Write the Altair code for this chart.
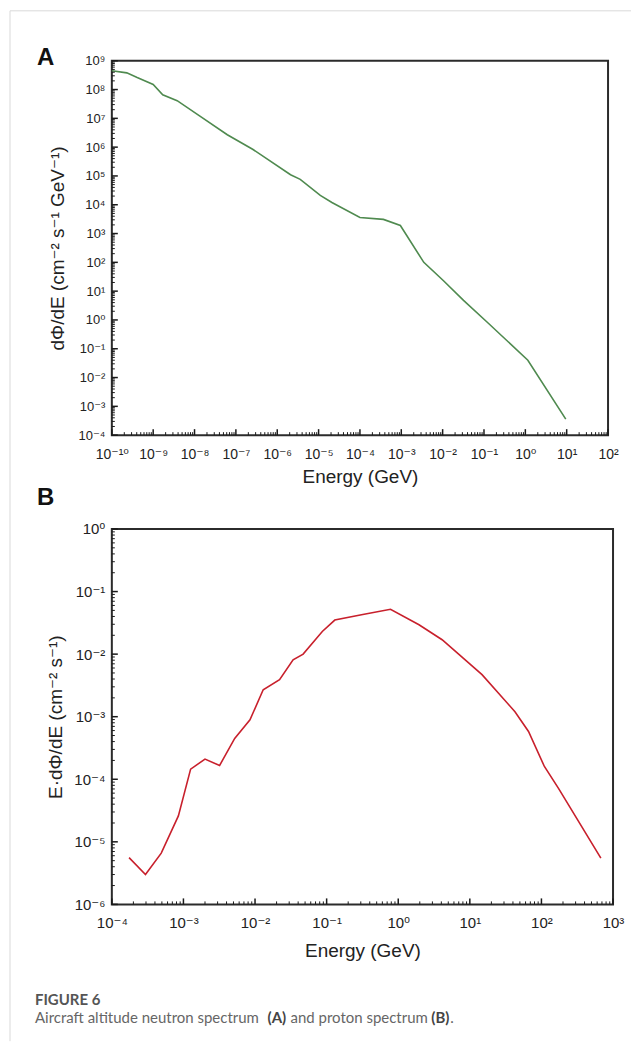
import json
import altair as alt
import pandas as pd

# ---------------- data ----------------
# Panel A: aircraft altitude neutron spectrum
energy_A = [1.0e-10, 2.3e-10, 4.1e-10, 1.0e-9, 1.7e-9, 3.8e-9, 1.35e-8, 6.2e-8, 2.6e-7,
            2.1e-6, 3.6e-6, 1.1e-5, 2.1e-5, 1.0e-4, 3.7e-4, 9.5e-4, 3.5e-3, 1.05e-2,
            3.2e-2, 1.2e-1, 1.15, 9.5]
flux_A = [4.5e8, 3.8e8, 2.6e8, 1.5e8, 6.6e7, 4.1e7, 1.2e7, 2.7e6, 8.3e5,
          1.1e5, 7.6e4, 2.1e4, 1.2e4, 3.6e3, 3.1e3, 1.9e3, 1.0e2, 2.3e1,
          4.8, 0.83, 0.04, 3.6e-4]

# Panel B: aircraft altitude proton spectrum
energy_B = [1.74e-4, 2.95e-4, 4.9e-4, 8.5e-4, 1.26e-3, 2.0e-3, 3.2e-3, 5.2e-3, 8.5e-3,
            1.3e-2, 2.2e-2, 3.4e-2, 4.7e-2, 8.7e-2, 0.13, 0.32, 0.78, 1.95, 4.1,
            14.8, 42.7, 66.0, 110.0, 174.0, 676.0]
flux_B = [5.6e-6, 3.0e-6, 6.6e-6, 2.6e-5, 1.45e-4, 2.1e-4, 1.66e-4, 4.5e-4, 8.9e-4,
          2.7e-3, 3.9e-3, 8.1e-3, 1.0e-2, 2.3e-2, 3.5e-2, 4.3e-2, 5.2e-2, 2.95e-2, 1.7e-2,
          4.7e-3, 1.2e-3, 5.8e-4, 1.6e-4, 7.1e-5, 5.5e-6]

# tick labels
A_x_labels = ["10⁻¹⁰", "10⁻⁹", "10⁻⁸", "10⁻⁷", "10⁻⁶", "10⁻⁵", "10⁻⁴", "10⁻³",
              "10⁻²", "10⁻¹", "10⁰", "10¹", "10²"]
A_y_labels = ["10⁻⁴", "10⁻³", "10⁻²", "10⁻¹", "10⁰", "10¹", "10²", "10³", "10⁴",
              "10⁵", "10⁶", "10⁷", "10⁸", "10⁹"]
B_x_labels = ["10⁻⁴", "10⁻³", "10⁻²", "10⁻¹", "10⁰", "10¹", "10²", "10³"]
B_y_labels = ["10⁻⁶", "10⁻⁵", "10⁻⁴", "10⁻³", "10⁻²", "10⁻¹", "10⁰"]

A_x_exp = (-10, 2)
A_y_exp = (-4, 9)
B_x_exp = (-4, 3)
B_y_exp = (-6, 0)

title_A_x = "Energy (GeV)"
title_A_y = "dΦ/dE (cm⁻² s⁻¹ GeV⁻¹)"
title_B_x = "Energy (GeV)"
title_B_y = "E·dΦ/dE (cm⁻² s⁻¹)"

caption_head = "FIGURE 6"
caption_parts = ["Aircraft altitude neutron spectrum", "(A)", "and proton spectrum", "(B)", "."]

# ---------------- style ----------------
FONT = "Liberation Sans, Arial, DejaVu Sans, sans-serif"
CAP_FONT = "Lato, Open Sans, sans-serif"
W_A, H_A = 497, 375
W_B, H_B = 502, 376
AXIS_COL = "#1a1a1a"


def majors(lo, hi):
    return [10.0 ** e for e in range(lo, hi + 1)]


def minors(lo, hi):
    return [k * 10.0 ** e for e in range(lo, hi) for k in range(2, 10)]


def label_expr(labels, lo):
    return f"{json.dumps(labels, ensure_ascii=False)}[round(log(datum.value)/LN10) - ({lo})]"


def panel(energy, flux, color, xexp, yexp, xlabels, ylabels, xtitle, ytitle,
          W, H, xlab_size, ylab_size, xlab_pad, xtitle_y, ytitle_x):
    sx = alt.Scale(type="log", domain=[10.0 ** xexp[0], 10.0 ** xexp[1]], nice=False)
    sy = alt.Scale(type="log", domain=[10.0 ** yexp[0], 10.0 ** yexp[1]], nice=False)
    ax = alt.Axis(values=majors(*xexp), labelExpr=label_expr(xlabels, xexp[0]),
                  title=xtitle, labelFontSize=xlab_size, labelPadding=xlab_pad,
                  labelOverlap=False, labelFlush=False,
                  titleY=xtitle_y, titleBaseline="alphabetic")
    ay = alt.Axis(values=majors(*yexp), labelExpr=label_expr(ylabels, yexp[0]),
                  title=ytitle, labelFontSize=ylab_size, labelPadding=7,
                  labelOverlap=False, labelFlush=False,
                  titleX=ytitle_x, titleBaseline="alphabetic")
    df = pd.DataFrame({"energy": energy, "flux": flux})
    line = alt.Chart(df).mark_line(color=color, strokeWidth=1.6).encode(
        x=alt.X("energy:Q", scale=sx, axis=ax),
        y=alt.Y("flux:Q", scale=sy, axis=ay),
    )
    # inward tick marks
    ymaj = alt.Chart(pd.DataFrame({"v": majors(*yexp)})).mark_rule(
        color=AXIS_COL, strokeWidth=1.5).encode(
        y=alt.Y("v:Q", scale=sy, axis=ay), x=alt.value(0), x2=alt.value(6))
    ymin = alt.Chart(pd.DataFrame({"v": minors(*yexp)})).mark_rule(
        color=AXIS_COL, strokeWidth=1).encode(
        y=alt.Y("v:Q", scale=sy, axis=ay), x=alt.value(0), x2=alt.value(3))
    xmaj = alt.Chart(pd.DataFrame({"v": majors(*xexp)})).mark_rule(
        color=AXIS_COL, strokeWidth=1.5).encode(
        x=alt.X("v:Q", scale=sx, axis=ax), y=alt.value(H), y2=alt.value(H - 6))
    xmin = alt.Chart(pd.DataFrame({"v": minors(*xexp)})).mark_rule(
        color=AXIS_COL, strokeWidth=1).encode(
        x=alt.X("v:Q", scale=sx, axis=ax), y=alt.value(H), y2=alt.value(H - 3))
    return [line, ymaj, ymin, xmaj, xmin]


one = pd.DataFrame({"d": [0]})


def text_layer(txt, x, y, size, weight, color, font):
    return alt.Chart(pd.DataFrame({"t": [txt]})).mark_text(
        font=font, fontSize=size, fontWeight=weight, color=color,
        align="left", baseline="alphabetic").encode(
        text="t:N", x=alt.value(x), y=alt.value(y))


layers_A = panel(energy_A, flux_A, "#4f8a4f", A_x_exp, A_y_exp, A_x_labels, A_y_labels,
                 title_A_x, title_A_y, W_A, H_A, 14, 13, 12, 47, -48)
border_top = alt.Chart(one).mark_rule(color="#d9d9d9", strokeWidth=1).encode(
    x=alt.value(-102), x2=alt.value(520), y=alt.value(-50))
border_left = alt.Chart(one).mark_rule(color="#d9d9d9", strokeWidth=1).encode(
    x=alt.value(-102), y=alt.value(-50), y2=alt.value(982))
letter_A = text_layer("A", -75, 4, 24, "bold", "#111111", FONT)
chart_A = alt.layer(*layers_A, border_top, border_left, letter_A).properties(
    width=W_A, height=H_A)

layers_B = panel(energy_B, flux_B, "#c8202c", B_x_exp, B_y_exp, B_x_labels, B_y_labels,
                 title_B_x, title_B_y, W_B, H_B, 15, 15, 11, 52, -50)
letter_B = text_layer("B", -75, -24, 24, "bold", "#111111", FONT)
CS = 15
cap = [
    text_layer(caption_head, -77, 477, 15, "bold", "#555555", CAP_FONT),
    text_layer(caption_parts[0], -77, 495, CS, "normal", "#666666", CAP_FONT),
    text_layer(caption_parts[1], 156, 495, CS, "bold", "#444444", CAP_FONT),
    text_layer(caption_parts[2], 179, 495, CS, "normal", "#666666", CAP_FONT),
    text_layer(caption_parts[3], 320, 495, CS, "bold", "#444444", CAP_FONT),
    text_layer(caption_parts[4], 339, 495, CS, "normal", "#666666", CAP_FONT),
]
chart_B = alt.layer(*layers_B, letter_B, *cap).properties(width=W_B, height=H_B)

chart = alt.vconcat(chart_A, chart_B, spacing=94, bounds="flush").properties(
    padding=0
).configure_view(
    stroke="#2b2b2b", strokeWidth=2
).configure_axis(
    grid=False, ticks=False, domain=False,
    labelFont=FONT, titleFont=FONT, labelColor="#222222", titleColor="#222222",
    titleFontSize=19, titleFontWeight="normal"
)

chart.save("out.html", embed_options={"renderer": "svg", "actions": False})
